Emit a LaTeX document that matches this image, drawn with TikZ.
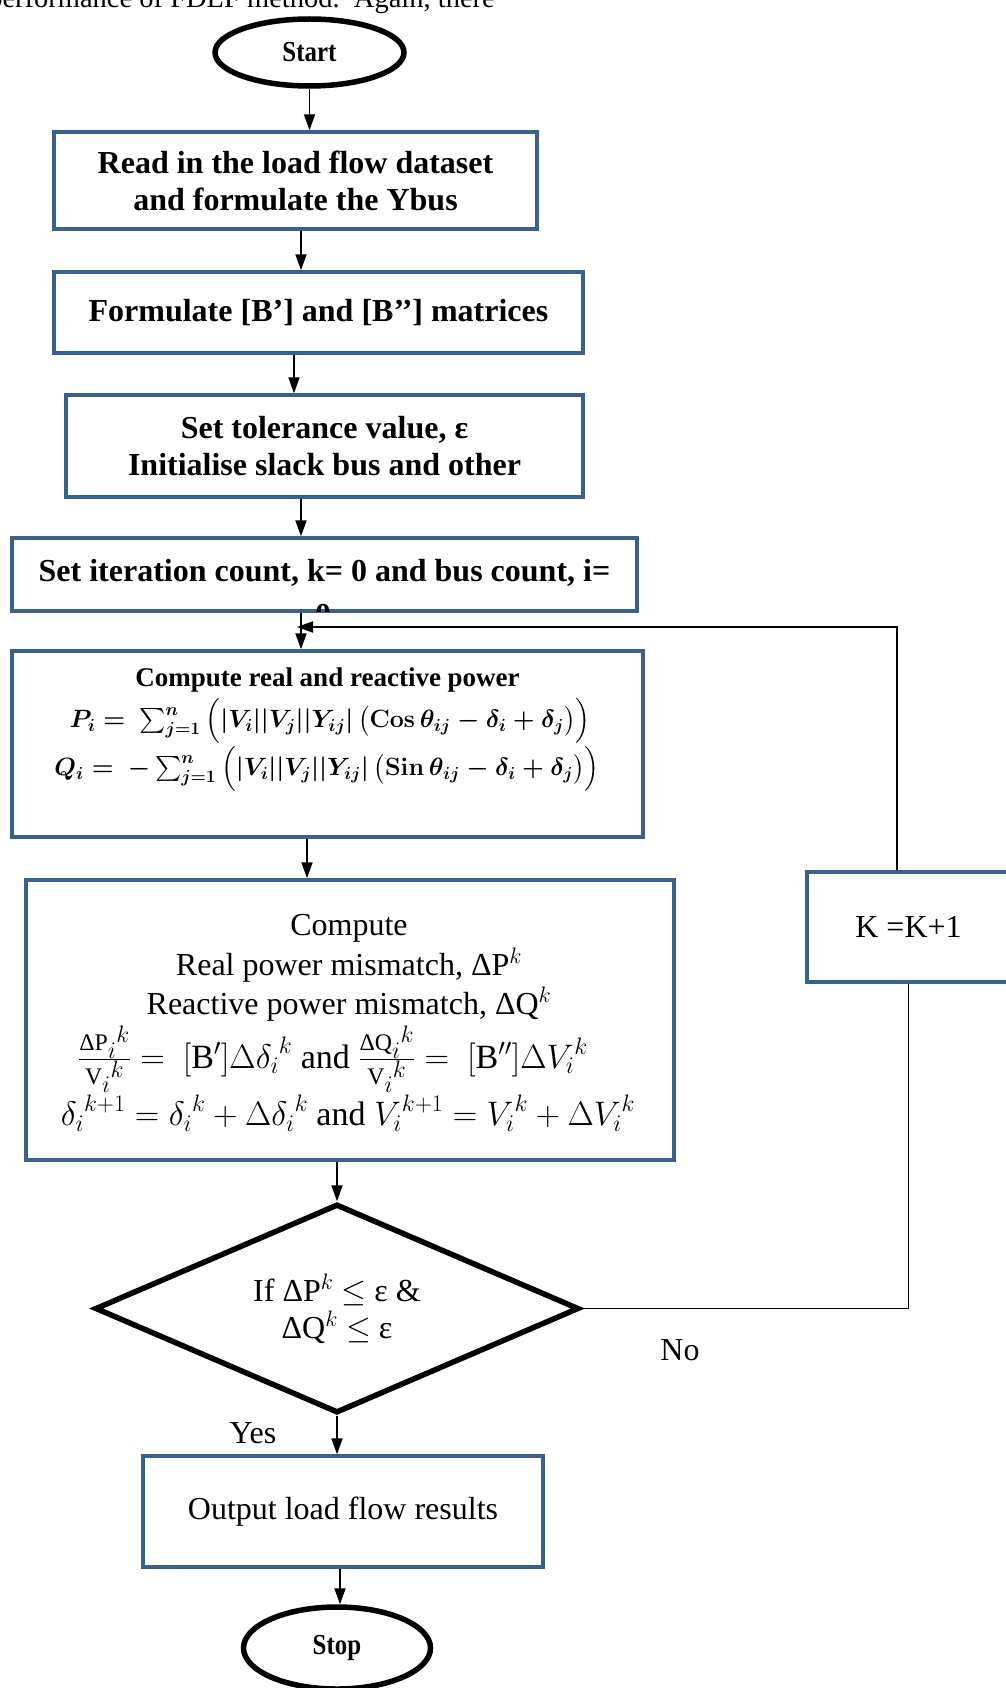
\documentclass[tikz,border=0pt]{standalone}
\usepackage{fix-cm}
\usepackage{amsmath}
\usepackage{graphicx}
\usepackage{fontspec}
\setmainfont{Liberation Serif}
\usetikzlibrary{shapes.geometric,arrows.meta,calc}
\definecolor{boxblue}{RGB}{60,96,142}
\newcommand\fsbig{\fontsize{32}{37}\selectfont}
\newcommand\fsmth{\fontsize{34}{38}\selectfont}
\newcommand\fsmid{\fontsize{27}{33}\selectfont}
\newcommand\fsform{\fontsize{25}{30}\selectfont}
\newcommand\fsterm{\fontsize{29}{34}\selectfont}
\newcommand\fspara{\fontsize{28.5}{32}\selectfont}
\newcommand\outerstrut{\vrule height 27.25pt depth 14.75pt width 0pt}
\newcommand\innerstrut{\vrule height 20.25pt depth 7.75pt width 0pt}
\newcommand\pformula{\boldmath$P_i = \ \sum_{j=1}^{n}\left(\outerstrut|V_i||V_j||Y_{ij}|\left(\innerstrut\mathbf{Cos}\,\theta_{ij}-\delta_i+\delta_j\right)\right)$}
\newcommand\qformula{\boldmath$Q_i = \ -\sum_{j=1}^{n}\left(\outerstrut|V_i||V_j||Y_{ij}|\left(\innerstrut\mathbf{Sin}\,\theta_{ij}-\delta_i+\delta_j\right)\right)$}
\newcommand\narrow[1]{\scalebox{0.86}[1]{#1}}
\tikzset{
  procbox/.style={draw=boxblue, line width=3.4pt, rectangle, inner sep=0pt, align=center},
  term/.style={draw=black, line width=5.5pt, ellipse, inner sep=0pt, font=\fsterm\bfseries},
  decbox/.style={draw=black, line width=5.5pt, diamond, aspect=2.316, inner sep=0pt, align=center, font=\fsbig},
  conn/.style={line width=1.8pt, -{Triangle[length=16pt,width=11pt]}},
  plainline/.style={line width=1.8pt},
  lbl/.style={font=\fsbig, inner sep=0pt},
  txt/.style={inner sep=0pt}
}
\begin{document}
\begin{tikzpicture}[x=1pt,y=1pt]
\useasboundingbox (0,0) rectangle (1005,-1688);
\fill[white] (0,0) rectangle (1005,-1688);

% cut-off paragraph text at the top
\node[txt, font=\fspara, anchor=base east] (para) at (495,-8) {performance of FDLF method.\ \ Again, there};

\node[term, minimum width=189pt, minimum height=67pt] (start) at (309.5,-52.5) {\narrow{Start}};

\node[procbox, minimum width=483pt, minimum height=97pt, font=\fsbig\bfseries] (b1) at (295.5,-180.5)
  {Read in the load flow dataset\\and formulate the Ybus};

\node[procbox, minimum width=529pt, minimum height=81pt, font=\fsbig\bfseries] (b2) at (318.5,-312.5)
  {Formulate [B’] and [B’’] matrices};

\node[procbox, minimum width=517pt, minimum height=102pt, font=\fsbig\bfseries] (b3) at (324.5,-446)
  {Set tolerance value, ε\\Initialise slack bus and other};

\node[procbox, minimum width=625pt, minimum height=73pt] (b4) at (324.5,-574.5) {};
\node[txt, font=\fsbig\bfseries, anchor=base] (b4text) at (324.5,-581) {Set iteration count, k= 0 and bus count, i=};
\begin{scope}
  \clip ([shift={(1.7pt,1.7pt)}]b4.south west) rectangle ([shift={(-1.7pt,-1.7pt)}]b4.north east);
  \node[txt, font=\fsbig\bfseries, anchor=base] (b4more) at (323,-625) {0};
\end{scope}

\node[procbox, minimum width=631pt, minimum height=186pt] (b5) at (327.5,-744) {};
\node[txt, font=\fsmid\bfseries] (b5title) at (327.5,-680) {Compute real and reactive power};
\node[txt, font=\fsform] (b5p) at (330,-721) {{\pformula}};
\node[txt, font=\fsform] (b5q) at (327,-769) {{\qformula}};

\node[procbox, minimum width=648pt, minimum height=280pt] (b6) at (350,-1020) {};
\node[txt, font=\fsbig] (b6l1) at (349,-928) {Compute};
\node[txt, font=\fsbig] (b6l2) at (349,-965) {Real power mismatch, ΔP$^{k}$};
\node[txt, font=\fsbig] (b6l3) at (349,-1004) {Reactive power mismatch, ΔQ$^{k}$};
\node[txt, font=\fsmth] (b6l4) at (333,-1059)
  {{$\frac{\text{ΔP}_{\scriptstyle i}{}^{\scriptstyle k}}{\text{V}_{\scriptstyle i}{}^{\scriptstyle k}} = \ [\text{B}']\Delta{\delta_i}^{k}$\ and\ $\frac{\text{ΔQ}_{\scriptstyle i}{}^{\scriptstyle k}}{\text{V}_{\scriptstyle i}{}^{\scriptstyle k}} = \ [\text{B}'']\Delta{V_i}^{k}$}};
\node[txt, font=\fsmth] (b6l5) at (348,-1113)
  {{${\delta_i}^{k+1} = {\delta_i}^{k} + \Delta{\delta_i}^{k}$ and\ ${V_i}^{k+1} = {V_i}^{k} + \Delta{V_i}^{k}$}};

\node[decbox, minimum width=484pt, minimum height=209pt] (dia) at (337,-1308.5)
  {If ΔP$^{k}$ $\leq$ ε \&\\ΔQ$^{k}$ $\leq$ ε};

\node[procbox, minimum width=203pt, minimum height=110pt, font=\fsbig] (kbox) at (908.5,-927) {K =K+1};

\node[procbox, minimum width=400pt, minimum height=111pt, font=\fsbig] (out) at (343,-1511.5)
  {Output load flow results};

\node[term, minimum width=187pt, minimum height=82pt] (stop) at (337,-1648) {\narrow{Stop}};

\node[lbl] (yes) at (253,-1433) {Yes};
\node[lbl] (no) at (680,-1350) {No};

\coordinate (fb) at (297,-627);

% connectors
\draw[conn] (start.south) -- (start.south |- b1.north);
\draw[conn] ([xshift=5.5pt]b1.south) -- ([xshift=5.5pt]b1.south |- b2.north);
\draw[conn] ([xshift=-24.5pt]b2.south) -- ([xshift=-24.5pt]b2.south |- b3.north);
\draw[conn] ([xshift=-23.5pt]b3.south) -- ([xshift=-23.5pt]b3.south |- b4.north);
\draw[conn] ([xshift=-23.5pt]b4.south) -- ([xshift=-23.5pt]b4.south |- b5.north);
\draw[conn] ([xshift=-11.5pt]kbox.north) |- (fb);
\draw[conn] ([xshift=-20.5pt]b5.south) -- ([xshift=-20.5pt]b5.south |- b6.north);
\draw[conn] (b6.south -| dia.north) -- (dia.north);
\draw[plainline] (dia.east) -| (kbox.south);
\draw[conn] (dia.south) -- (dia.south |- out.north);
\draw[conn] ([xshift=-3pt]out.south) -- ([xshift=-3pt]out.south |- stop.north);
\end{tikzpicture}
\end{document}
